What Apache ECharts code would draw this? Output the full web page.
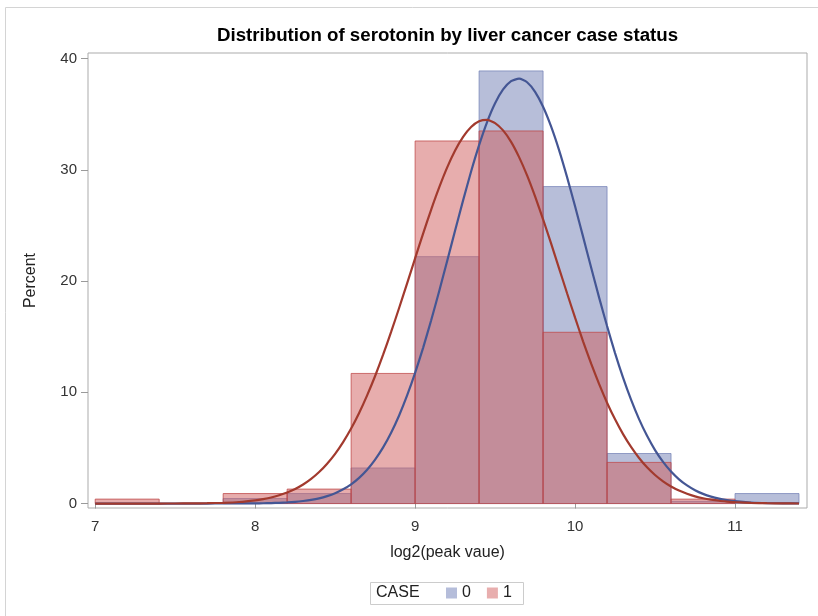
<!DOCTYPE html>
<html>
<head>
<meta charset="utf-8">
<script src="https://cdn.jsdelivr.net/npm/echarts@6/dist/echarts.min.js"></script>
<style>
  html, body { margin: 0; padding: 0; background: #ffffff; }
  #chart { width: 818px; height: 616px; }
</style>
</head>
<body>
<div id="chart"></div>
<script>
// Histogram bin edges on the log2(peak value) scale
const binEdges = [7.0, 7.4, 7.8, 8.2, 8.6, 9.0, 9.4, 9.8, 10.2, 10.6, 11.0, 11.4];
// Percent of subjects per bin, CASE = 0 (controls)
const case0Pct = [0, 0, 0.45, 0.9, 3.2, 22.2, 38.9, 28.5, 4.5, 0.2, 0.9];
// Percent of subjects per bin, CASE = 1 (cases)
const case1Pct = [0.4, 0, 0.9, 1.3, 11.7, 32.6, 33.5, 15.4, 3.7, 0.4, 0];

// Fitted normal density curves (percent scale), sampled along the x axis
const curveX = [
  7.0, 7.1, 7.2, 7.3, 7.4, 7.5, 7.6, 7.7, 7.8, 7.9,
  8.0, 8.05, 8.1, 8.15, 8.2, 8.25, 8.3, 8.35, 8.4, 8.45,
  8.5, 8.55, 8.6, 8.65, 8.7, 8.75, 8.8, 8.85, 8.9, 8.95,
  9.0, 9.05, 9.1, 9.15, 9.2, 9.25, 9.3, 9.35, 9.4, 9.45,
  9.5, 9.55, 9.6, 9.65, 9.7, 9.75, 9.8, 9.85, 9.9, 9.95,
  10.0, 10.05, 10.1, 10.15, 10.2, 10.25, 10.3, 10.35, 10.4, 10.45,
  10.5, 10.55, 10.6, 10.65, 10.7, 10.75, 10.8, 10.85, 10.9, 10.95,
  11.0, 11.1, 11.2, 11.3, 11.4
];
const case0Curve = [
  0, 0, 0, 0, 0, 0, 0.001, 0.002, 0.003, 0.007,
  0.018, 0.028, 0.044, 0.068, 0.10, 0.15, 0.23, 0.33, 0.47, 0.67,
  0.93, 1.28, 1.73, 2.31, 3.04, 3.95, 5.05, 6.37, 7.92, 9.72,
  11.75, 14.00, 16.46, 19.07, 21.79, 24.55, 27.26, 29.85, 32.22, 34.30,
  35.99, 37.23, 37.98, 38.20, 37.88, 37.02, 35.68, 33.91, 31.78, 29.35,
  26.73, 24.00, 21.24, 18.54, 15.96, 13.53, 11.32, 9.34, 7.59, 6.09,
  4.81, 3.75, 2.88, 2.18, 1.63, 1.20, 0.87, 0.62, 0.44, 0.31,
  0.21, 0.095, 0.04, 0.017, 0.007
];
const case1Curve = [
  0, 0, 0, 0.001, 0.002, 0.006, 0.014, 0.031, 0.069, 0.14,
  0.29, 0.40, 0.54, 0.74, 0.99, 1.31, 1.71, 2.21, 2.83, 3.58,
  4.47, 5.53, 6.75, 8.15, 9.73, 11.47, 13.38, 15.43, 17.58, 19.80,
  22.05, 24.27, 26.41, 28.40, 30.20, 31.74, 32.97, 33.86, 34.37, 34.49,
  34.21, 33.55, 32.52, 31.15, 29.51, 27.62, 25.56, 23.39, 21.15, 18.91,
  16.71, 14.59, 12.60, 10.76, 9.07, 7.57, 6.24, 5.09, 4.10, 3.26,
  2.57, 2.00, 1.54, 1.17, 0.88, 0.65, 0.48, 0.35, 0.25, 0.18,
  0.12, 0.06, 0.03, 0.01, 0.005
];

// Axis tick labels
const xTicks = [7, 8, 9, 10, 11];
const yTicks = [0, 10, 20, 30, 40];

const FONT = '"Liberation Sans", Arial, Helvetica, sans-serif';

function histData(values) {
  return values.map((v, i) => [binEdges[i], binEdges[i + 1], v]);
}
function curveData(values) {
  return values.map((v, i) => [curveX[i], v]);
}
function renderBin(params, api) {
  const v = api.value(2);
  if (!(v > 0)) return null;
  const topLeft = api.coord([api.value(0), v]);
  const bottomRight = api.coord([api.value(1), 0]);
  return {
    type: 'rect',
    shape: {
      x: topLeft[0],
      y: topLeft[1],
      width: bottomRight[0] - topLeft[0],
      height: bottomRight[1] - topLeft[1]
    },
    style: api.style()
  };
}

const chart = echarts.init(document.getElementById('chart'), null, { renderer: 'canvas' });

chart.setOption({
  animation: false,
  backgroundColor: '#ffffff',
  textStyle: { fontFamily: FONT },
  title: {
    text: 'Distribution of serotonin by liver cancer case status',
    left: 212,
    top: 21,
    textStyle: { fontFamily: FONT, fontSize: 18.7, fontWeight: 'bold', color: '#000000' }
  },
  graphic: [
    {
      type: 'rect',
      shape: { x: 5.5, y: 7.5, width: 900, height: 700 },
      style: { fill: 'none', stroke: '#d4d4d4', lineWidth: 1 },
      silent: true
    },
    {
      type: 'rect',
      shape: { x: 370.5, y: 582.5, width: 153, height: 22 },
      style: { fill: '#ffffff', stroke: '#cccccc', lineWidth: 1 },
      silent: true,
      z: 0
    },
    {
      type: 'text',
      x: 376,
      y: 585,
      style: { text: 'CASE', fontFamily: FONT, fontSize: 16, fill: '#222222' },
      silent: true,
      z: 10
    }
  ],
  legend: {
    data: [
      { name: '0', itemStyle: { color: '#b5bdda', borderWidth: 0 } },
      { name: '1', itemStyle: { color: '#e8aeae', borderWidth: 0 } }
    ],
    left: 446,
    top: 585,
    itemWidth: 11,
    itemHeight: 11,
    itemGap: 16,
    padding: 0,
    icon: 'rect',
    textStyle: { fontFamily: FONT, fontSize: 16, color: '#222222' },
    selectedMode: false,
    z: 10
  },
  grid: {
    left: 88,
    right: 11,
    top: 53,
    bottom: 108,
    show: true,
    borderColor: '#ababab',
    borderWidth: 1,
    backgroundColor: 'transparent'
  },
  xAxis: {
    type: 'value',
    min: 6.955,
    max: 11.45,
    name: 'log2(peak vaue)',
    nameLocation: 'middle',
    nameGap: 37,
    nameTextStyle: { fontFamily: FONT, fontSize: 16, color: '#222222' },
    axisLine: { show: false },
    splitLine: { show: false },
    axisTick: {
      show: true,
      customValues: xTicks,
      length: 5,
      lineStyle: { color: '#9a9a9a' }
    },
    axisLabel: {
      customValues: xTicks,
      margin: 11,
      fontFamily: FONT,
      fontSize: 15,
      color: '#333333'
    }
  },
  yAxis: {
    type: 'value',
    min: -0.4,
    max: 40.51,
    name: 'Percent',
    nameLocation: 'middle',
    nameGap: 49,
    nameRotate: 90,
    nameTextStyle: { fontFamily: FONT, fontSize: 16, color: '#222222' },
    axisLine: { show: false },
    splitLine: { show: false },
    axisTick: {
      show: true,
      customValues: yTicks,
      length: 7,
      lineStyle: { color: '#9a9a9a' }
    },
    axisLabel: {
      customValues: yTicks,
      margin: 11,
      fontFamily: FONT,
      fontSize: 15,
      color: '#333333'
    }
  },
  series: [
    {
      name: '0',
      type: 'custom',
      renderItem: renderBin,
      encode: { x: [0, 1], y: 2 },
      data: histData(case0Pct),
      itemStyle: {
        color: 'rgba(111,126,179,0.5)',
        borderColor: 'rgba(111,126,179,0.7)',
        borderWidth: 1
      },
      z: 1
    },
    {
      name: '1',
      type: 'custom',
      renderItem: renderBin,
      encode: { x: [0, 1], y: 2 },
      data: histData(case1Pct),
      itemStyle: {
        color: 'rgba(208,91,91,0.5)',
        borderColor: 'rgba(190,70,70,0.75)',
        borderWidth: 1
      },
      z: 2
    },
    {
      name: 'Normal 0',
      type: 'line',
      data: curveData(case0Curve),
      smooth: 0.2,
      showSymbol: false,
      lineStyle: { color: '#445694', width: 2.2 },
      itemStyle: { color: '#445694' },
      z: 3
    },
    {
      name: 'Normal 1',
      type: 'line',
      data: curveData(case1Curve),
      smooth: 0.2,
      showSymbol: false,
      lineStyle: { color: '#A23A2E', width: 2.2 },
      itemStyle: { color: '#A23A2E' },
      z: 4
    }
  ]
});
</script>
</body>
</html>
